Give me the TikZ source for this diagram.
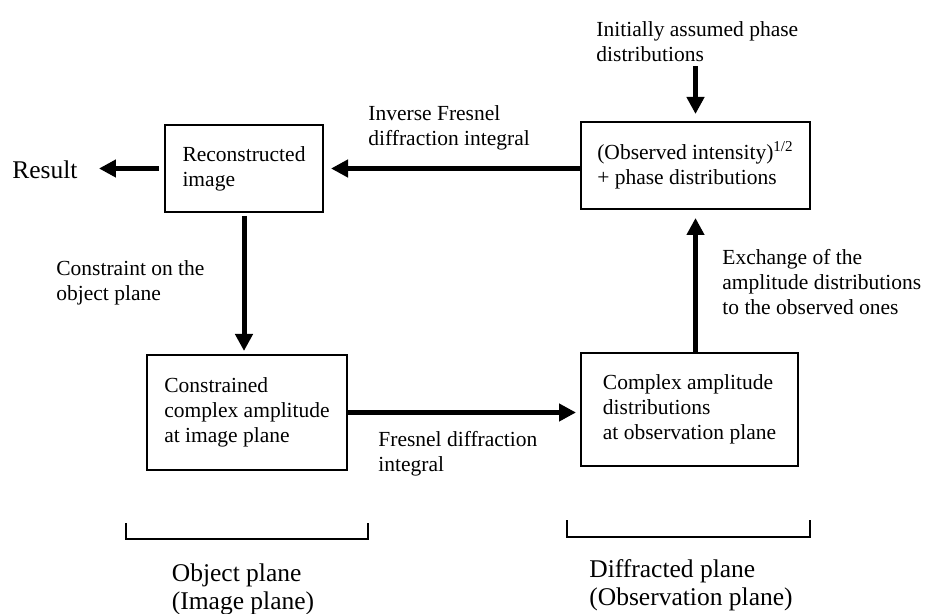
\documentclass[tikz,border=0pt]{standalone}
\usepackage{fontspec}
\setmainfont{Liberation Serif}
\usetikzlibrary{arrows.meta}
\begin{document}
\begin{tikzpicture}[x=0.5pt,y=-0.5pt,
    box/.style={draw,line width=1pt,align=left,inner sep=0pt,font=\fontsize{10.75}{12.5}\selectfont},
    lbl/.style={align=left,inner sep=0pt,anchor=west,font=\fontsize{10.75}{12.5}\selectfont},
    big/.style={align=left,inner sep=0pt,font=\fontsize{12.75}{14}\selectfont},
    arr/.style={line width=2.5pt,-{Triangle[length=8.5pt,width=8.5pt]}}]
    \useasboundingbox (0,0) rectangle (925,614);
    \node[box,minimum width=79pt,minimum height=43.5pt] (recon) at (244,168.5)
        {Reconstructed\\image};
    \node[box,minimum width=100pt,minimum height=57.5pt] (constr) at (247,412.5)
        {Constrained\\complex amplitude\\at image plane};
    \node[box,minimum width=114.5pt,minimum height=43.5pt] (obs) at (695.5,165.5)
        {(Observed intensity)\textsuperscript{1/2}\\+ phase distributions};
    \node[box,minimum width=108.5pt,minimum height=56.5pt] (cplx) at (689.5,409.5)
        {Complex amplitude\\distributions\\at observation plane};
    \node[big,anchor=west] (result) at (12,170) {Result};
    \node[lbl] (init) at (596,42) {Initially assumed phase\\distributions};
    \node[lbl] (inv) at (368,128) {Inverse Fresnel\\diffraction integral};
    \node[lbl] (cons) at (56,283) {Constraint on the\\object plane};
    \node[lbl] (fres) at (378,454) {Fresnel diffraction\\integral};
    \node[lbl] (exch) at (722,282) {Exchange of the\\amplitude distributions\\to the observed ones};
    \node[big] (objpl) at (243,589) {Object plane\\(Image plane)};
    \node[big] (difpl) at (691,585) {Diffracted plane\\(Observation plane)};
    \draw[arr,shorten <=2.5pt,shorten >=10.5pt] (recon.west) -- (recon.west -| result.east);
    \draw[arr,shorten >=3.5pt] ([yshift=-1.5pt]obs.west) -- ([yshift=-1.5pt]obs.west -| recon.east);
    \draw[arr,shorten <=1.5pt,shorten >=1.5pt] (recon.south) -- (recon.south |- constr.north);
    \draw[arr,shorten >=2pt] (constr.east) -- (constr.east -| cplx.west);
    \draw[arr,shorten >=4pt] (obs.south |- cplx.north) -- (obs.south);
    \draw[arr,shorten <=2pt,shorten >=3.5pt] (init.south -| obs.north) -- (obs.north);
    \draw[line width=1pt] (126,523) -- (126,539) -- (368,539) -- (368,523);
    \draw[line width=1pt] (567,520) -- (567,537) -- (810,537) -- (810,520);
\end{tikzpicture}
\end{document}
